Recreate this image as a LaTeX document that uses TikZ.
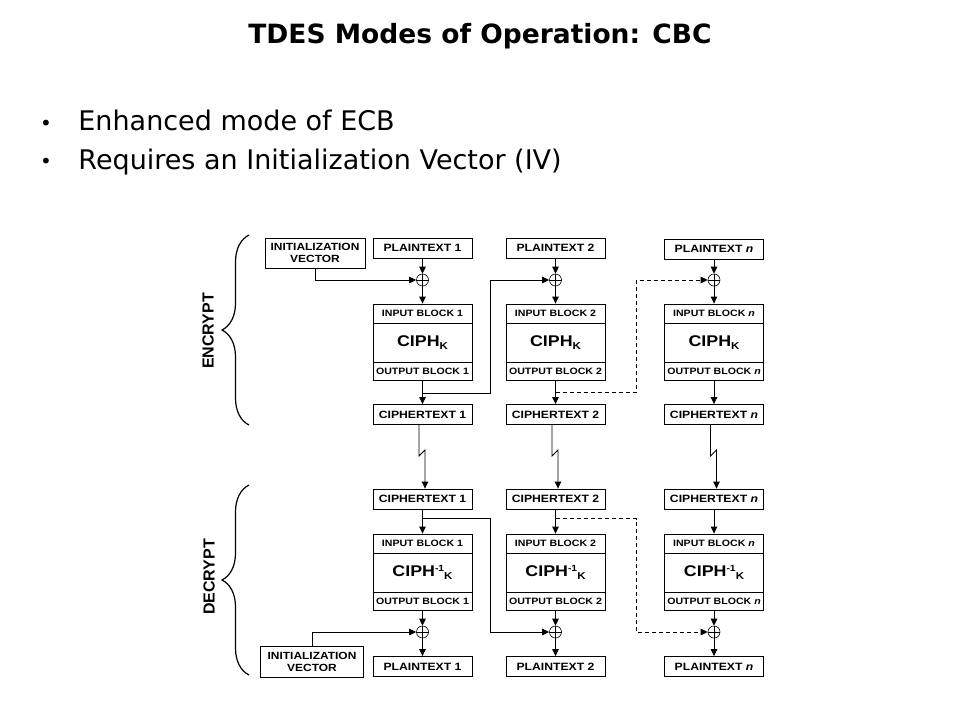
\documentclass[tikz,border=0pt]{standalone}
\usepackage{fontspec}
\setmainfont{DejaVu Sans}
\newfontfamily\diagfont[FakeStretch=1.15]{Liberation Sans}
\newfontfamily\labfont{Liberation Sans}
\usetikzlibrary{arrows.meta,decorations.pathreplacing,calc}
\newcommand\myciphk{CIPH\raisebox{-0.35ex}{\fontsize{10}{10}\selectfont K}}
\newcommand\myciphinvk{CIPH\raisebox{0.6ex}{\fontsize{9}{9}\selectfont -1}\raisebox{-0.35ex}{\fontsize{10}{10}\selectfont K}}
\begin{document}
\begin{tikzpicture}[x=1pt,y=-1pt,
  line width=0.85pt,
  >={Triangle[length=7pt,width=6.5pt]},
  box/.style={draw, line width=0.85pt, inner sep=0pt, minimum width=99pt, minimum height=20pt,
    font=\diagfont\bfseries\fontsize{10.6}{12}\selectfont},
  ivbox/.style={box, minimum width=100pt, minimum height=30pt, align=center,
    font=\diagfont\bfseries\fontsize{10.4}{11.5}\selectfont},
  inb/.style={box, minimum height=19pt, font=\diagfont\bfseries\fontsize{9.2}{10}\selectfont},
  outb/.style={box, minimum height=18pt, font=\diagfont\bfseries\fontsize{9.2}{10}\selectfont},
  midb/.style={box, minimum height=39pt, font=\diagfont\bfseries\fontsize{15.5}{16}\selectfont},
  xorc/.style={draw, circle, inner sep=0pt, minimum size=12pt, line width=0.6pt},
  brc/.style={decorate, decoration={brace, amplitude=27pt}, line width=1.2pt},
  sidelab/.style={rotate=90, font=\labfont\bfseries\fontsize{16}{18}\selectfont},
  dsh/.style={dash pattern=on 4pt off 3pt}
]
\useasboundingbox (0,0) rectangle (960,720);

% title and bullets
\node[anchor=base, font=\bfseries\fontsize{26.5}{30}\selectfont] (title) at (480,43) {TDES Modes of Operation: CBC};
\node[font=\fontsize{20}{22}\selectfont] (dot1) at (46,125) {•};
\node[font=\fontsize{20}{22}\selectfont] (dot2) at (46,163.5) {•};
\node[anchor=base west, inner sep=0pt, font=\fontsize{27}{30}\selectfont] (bt1) at (78,130.5) {Enhanced mode of ECB};
\node[anchor=base west, inner sep=0pt, font=\fontsize{27}{30}\selectfont] (bt2) at (78,169) {Requires an Initialization Vector (IV)};

% helper x positions for feed-forward lines
\coordinate (k1) at (490,0);
\coordinate (k2) at (636,0);

% ---------------- ENCRYPT ----------------
\node[ivbox] (iv1) at (315,253) {INITIALIZATION\\VECTOR};
\node[box] (p1) at (422.5,248) {PLAINTEXT 1};
\node[box] (p2) at (555.5,248) {PLAINTEXT 2};
\node[box] (pn) at (714,249) {PLAINTEXT \textit{n}};

\node[xorc] (x1) at (422.5,280) {};
\node[xorc] (x2) at (555.5,280) {};
\node[xorc] (xn) at (714,280) {};
\foreach \n in {x1,x2,xn}{\draw[line width=0.6pt] (\n.north) -- (\n.south) (\n.west) -- (\n.east);}

\node[inb] (i1) at (422.5,313.5) {INPUT BLOCK 1};
\node[midb] (m1) at (422.5,342.5) {\myciphk};
\node[outb] (o1) at (422.5,371) {OUTPUT BLOCK 1};
\node[inb] (i2) at (555.5,313.5) {INPUT BLOCK 2};
\node[midb] (m2) at (555.5,342.5) {\myciphk};
\node[outb] (o2) at (555.5,371) {OUTPUT BLOCK 2};
\node[inb] (in) at (714,313.5) {INPUT BLOCK \textit{n}};
\node[midb] (mn) at (714,342.5) {\myciphk};
\node[outb] (on) at (714,371) {OUTPUT BLOCK \textit{n}};

\node[box] (c1) at (422.5,414.5) {CIPHERTEXT 1};
\node[box] (c2) at (555.5,414.5) {CIPHERTEXT 2};
\node[box] (cn) at (714,414.5) {CIPHERTEXT \textit{n}};

\draw[->] (p1) -- (x1);
\draw[->] (p2) -- (x2);
\draw[->] (pn) -- (xn);
\draw[->] (x1) -- (i1);
\draw[->] (x2) -- (i2);
\draw[->] (xn) -- (in);
\draw[->] (o1) -- (c1);
\draw[->] (o2) -- (c2);
\draw[->] (on) -- (cn);
\draw[->] (iv1.south) |- (x1.west);

\coordinate (eb1) at (422.5,393);
\coordinate (eb2) at (555.5,392);
\draw[->] (eb1) -- (eb1 -| k1) |- (x2.west);
\draw[->,dsh] (eb2) -- (eb2 -| k2) |- (xn.west);

\draw[brc] (249,425) -- (249,235);
\node[sidelab] (enc) at (208,331) {ENCRYPT};

% ---------------- DECRYPT ----------------
\node[box] (dc1) at (422.5,499) {CIPHERTEXT 1};
\node[box] (dc2) at (555.5,499) {CIPHERTEXT 2};
\node[box] (dcn) at (714,499) {CIPHERTEXT \textit{n}};

\node[inb] (di1) at (422.5,543.5) {INPUT BLOCK 1};
\node[midb] (dm1) at (422.5,572.5) {\myciphinvk};
\node[outb] (do1) at (422.5,601) {OUTPUT BLOCK 1};
\node[inb] (di2) at (555.5,543.5) {INPUT BLOCK 2};
\node[midb] (dm2) at (555.5,572.5) {\myciphinvk};
\node[outb] (do2) at (555.5,601) {OUTPUT BLOCK 2};
\node[inb] (din) at (714,543.5) {INPUT BLOCK \textit{n}};
\node[midb] (dmn) at (714,572.5) {\myciphinvk};
\node[outb] (don) at (714,601) {OUTPUT BLOCK \textit{n}};

\node[xorc] (dx1) at (422.5,632) {};
\node[xorc] (dx2) at (555.5,632) {};
\node[xorc] (dxn) at (714,632) {};
\foreach \n in {dx1,dx2,dxn}{\draw[line width=0.6pt] (\n.north) -- (\n.south) (\n.west) -- (\n.east);}

\node[box] (dp1) at (422.5,666.5) {PLAINTEXT 1};
\node[box] (dp2) at (555.5,666.5) {PLAINTEXT 2};
\node[box] (dpn) at (714,666.5) {PLAINTEXT \textit{n}};
\node[ivbox, minimum width=103pt, minimum height=31pt] (div) at (312,662) {INITIALIZATION\\VECTOR};

\draw[->] (dc1) -- (di1);
\draw[->] (dc2) -- (di2);
\draw[->] (dcn) -- (din);
\draw[->] (do1) -- (dx1);
\draw[->] (do2) -- (dx2);
\draw[->] (don) -- (dxn);
\draw[->] (dx1) -- (dp1);
\draw[->] (dx2) -- (dp2);
\draw[->] (dxn) -- (dpn);
\draw[->] (div.north) |- (dx1.west);

\coordinate (db1) at (422.5,518.5);
\coordinate (db2) at (555.5,518.5);
\draw[->] (db1) -- (db1 -| k1) |- (dx2.west);
\draw[->,dsh] (db2) -- (db2 -| k2) |- (dxn.west);

\draw[brc] (249,675) -- (249,485);
\node[sidelab] (dec) at (209,577) {DECRYPT};

% ---------------- transmission (broken lines) ----------------
\draw[->] ([xshift=-3.5pt]c1.south) -- ++(0,31) -- ++(6,-6) -- ([xshift=2.5pt]dc1.north);
\draw[->] ([xshift=-3.5pt]c2.south) -- ++(0,31) -- ++(6,-6) -- ([xshift=2.5pt]dc2.north);
\draw[->] ([xshift=-3.5pt]cn.south) -- ++(0,31) -- ++(6,-6) -- ([xshift=2.5pt]dcn.north);
\end{tikzpicture}
\end{document}
